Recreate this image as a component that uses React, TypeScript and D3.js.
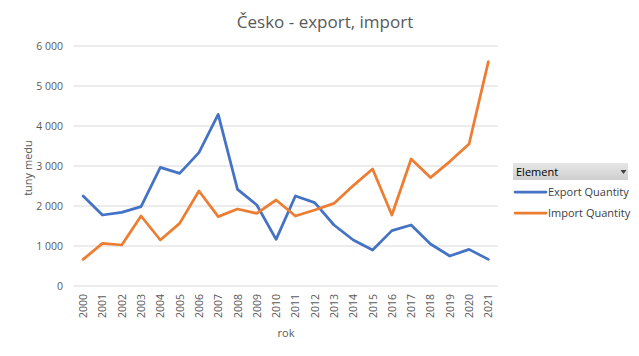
import React from "react";
import * as d3 from "d3";

const years = ["2000","2001","2002","2003","2004","2005","2006","2007","2008","2009","2010","2011","2012","2013","2014","2015","2016","2017","2018","2019","2020","2021"];
const exportQty = [2250,1775,1840,1985,2965,2815,3335,4290,2415,2025,1165,2250,2085,1525,1150,900,1385,1525,1050,750,915,665];
const importQty = [665,1065,1025,1750,1150,1565,2375,1735,1925,1815,2150,1750,1900,2065,2510,2925,1775,3175,2710,3110,3550,5610];
const yTicks = [0,1000,2000,3000,4000,5000,6000];
const seriesNames = ["Export Quantity","Import Quantity"];
const colors = ["#4472C4","#ED7D31"];

const W = 639, H = 356;
const left = 73.5, right = 498, top = 46, bottom = 286;
const FONT = "'Open Sans', 'Noto Sans', sans-serif";

export default function App() {
  const x = d3.scaleBand().domain(years).range([left, right]);
  const y = d3.scaleLinear().domain([0, 6000]).range([bottom, top]);
  const line = d3.line<number>().x((_, i) => (x(years[i]) as number) + x.bandwidth() / 2).y(d => y(d));
  const fmt = (v: number) => d3.format(",")(v).replace(/,/g, " ");
  const series = [exportQty, importQty];
  return (
    <svg width={W} height={H} style={{ position: "absolute", left: 0, top: 0, fontFamily: FONT }}>
      <defs>
        <linearGradient id="hdr" x1="0" y1="0" x2="0" y2="1">
          <stop offset="0" stopColor="#e6e6e6" />
          <stop offset="1" stopColor="#cfcfcf" />
        </linearGradient>
      </defs>
      <rect width={W} height={H} fill="#fff" />
      <text x={325} y={28} textAnchor="middle" fontSize={17} fill="#595959">Česko - export, import</text>
      {yTicks.map(t => (
        <g key={t}>
          <line x1={left} x2={right} y1={y(t)} y2={y(t)} stroke="#d9d9d9" strokeWidth={1} />
          <text x={63} y={y(t) + 4} textAnchor="end" fontSize={10.5} fill="#595959">{fmt(t)}</text>
        </g>
      ))}
      {years.map(yr => {
        const cx = (x(yr) as number) + x.bandwidth() / 2;
        return (
          <text key={yr} transform={`translate(${cx + 4},${294}) rotate(-90)`} textAnchor="end" fontSize={10.5} fill="#595959">{yr}</text>
        );
      })}
      <text transform={`translate(${32},${168}) rotate(-90)`} textAnchor="middle" fontSize={11} fill="#595959">tuny medu</text>
      <text x={286} y={337} textAnchor="middle" fontSize={11} fill="#595959">rok</text>
      {series.map((s, i) => (
        <path key={i} d={line(s) as string} fill="none" stroke={colors[i]} strokeWidth={2.75} strokeLinejoin="round" strokeLinecap="round" />
      ))}
      <rect x={513} y={163} width={115} height={17} fill="url(#hdr)" />
      <text x={516} y={175.5} fontSize={11} fill="#000">Element</text>
      <path d="M620.5,170 L626.5,170 L623.5,174 Z" fill="#404040" />
      {seriesNames.map((n, i) => (
        <g key={n}>
          <line x1={515} x2={546} y1={192 + i * 21} y2={192 + i * 21} stroke={colors[i]} strokeWidth={2.75} strokeLinecap="round" />
          <text x={548} y={196 + i * 21} fontSize={11} fill="#404040">{n}</text>
        </g>
      ))}
    </svg>
  );
}
